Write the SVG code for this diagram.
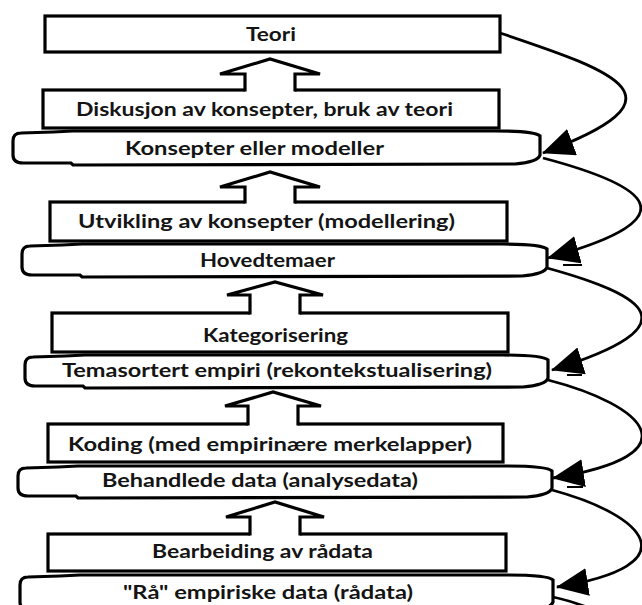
<svg xmlns="http://www.w3.org/2000/svg" width="642" height="605" viewBox="0 0 642 605">
<style>
.box{fill:#fff;stroke:#000;stroke-width:3.2}
.lbl{font-family:Lato,"Liberation Sans",sans-serif;font-weight:bold;font-size:19px;fill:#141414;text-anchor:middle}
.up-fill{fill:#fff;stroke:none}
.up-line{fill:none;stroke:#000;stroke-width:3.2;stroke-linejoin:miter}
.curve{fill:none;stroke:#000;stroke-width:2.8}
.tick{stroke:#000;stroke-width:2}
</style>
<defs>
<marker id="head" markerUnits="userSpaceOnUse" markerWidth="32" markerHeight="28" viewBox="0 0 32 28" refX="31" refY="14" orient="auto">
<path d="M0,0 L32,14 L0,28 Z" fill="#000"/>
</marker>
</defs>
<rect width="642" height="605" fill="#fff"/>
<g id="nodes">
<g id="teori"><rect class="box" x="45" y="16" width="455" height="36"/><text class="lbl" x="271" y="41" textLength="50" lengthAdjust="spacingAndGlyphs">Teori</text></g>
<g id="diskusjon"><rect class="box" x="43" y="90" width="456" height="38"/><text class="lbl" x="264.5" y="116" textLength="377" lengthAdjust="spacingAndGlyphs">Diskusjon av konsepter, bruk av teori</text></g>
<g id="konsepter"><path class="box" d="M21,133 L53,132 L73,131 L495,131 Q535,131 540,136 L540,155 Q538,162 515,164 L73,165 L71,163 L23,163 Q13,163 13,155 L13,141 Q13,133 21,133 Z"/><text class="lbl" x="254.5" y="155" textLength="259" lengthAdjust="spacingAndGlyphs">Konsepter eller modeller</text></g>
<g id="utvikling"><rect class="box" x="50" y="202" width="457" height="39"/><text class="lbl" x="266.5" y="228" textLength="377" lengthAdjust="spacingAndGlyphs">Utvikling av konsepter (modellering)</text></g>
<g id="hovedtemaer"><path class="box" d="M30,246 L62,245 L82,244 L502,244 Q542,244 547,249 L547,267 Q545,274 522,276 L82,277 L80,275 L32,275 Q22,275 22,267 L22,254 Q22,246 30,246 Z"/><text class="lbl" x="267.5" y="267" textLength="135" lengthAdjust="spacingAndGlyphs">Hovedtemaer</text></g>
<g id="kategorisering"><rect class="box" x="52" y="313" width="456" height="39"/><text class="lbl" x="275.5" y="342" textLength="145" lengthAdjust="spacingAndGlyphs">Kategorisering</text></g>
<g id="temasortert"><path class="box" d="M33,357 L65,356 L85,355 L503,355 Q543,355 548,360 L548,378 Q546,385 523,387 L85,388 L83,386 L35,386 Q25,386 25,378 L25,365 Q25,357 33,357 Z"/><text class="lbl" x="277" y="377" textLength="430" lengthAdjust="spacingAndGlyphs">Temasortert empiri (rekontekstualisering)</text></g>
<g id="koding"><rect class="box" x="48" y="424" width="455" height="38"/><text class="lbl" x="270" y="451" textLength="404" lengthAdjust="spacingAndGlyphs">Koding (med empirinære merkelapper)</text></g>
<g id="behandlede"><path class="box" d="M26,468 L58,467 L78,466 L507,466 Q547,466 552,471 L552,488 Q550,495 527,497 L78,498 L76,496 L28,496 Q18,496 18,488 L18,476 Q18,468 26,468 Z"/><text class="lbl" x="260" y="487" textLength="316" lengthAdjust="spacingAndGlyphs">Behandlede data (analysedata)</text></g>
<g id="bearbeiding"><rect class="box" x="48" y="534" width="458" height="37"/><text class="lbl" x="262.5" y="558" textLength="221" lengthAdjust="spacingAndGlyphs">Bearbeiding av rådata</text></g>
<g id="raadata"><path class="box" d="M28,577 L60,576 L80,575 L508,575 Q548,575 553,580 L553,602 Q551,609 528,611 L80,612 L78,610 L30,610 Q20,610 20,602 L20,585 Q20,577 28,577 Z"/><text class="lbl" x="268" y="599" textLength="290" lengthAdjust="spacingAndGlyphs">"Rå" empiriske data (rådata)</text></g>
</g>
<g id="connectors">
<g id="up1"><polygon class="up-fill" points="220,74 270,59 320,74 295,74 295,92 245,92 245,74"/><path class="up-line" d="M245,91.5 L245,74 L220,74 L270,59 L320,74 L295,74 L295,91.5"/></g>
<g id="up2"><polygon class="up-fill" points="220,187 270,172 320,187 295,187 295,204 245,204 245,187"/><path class="up-line" d="M245,203.5 L245,187 L220,187 L270,172 L320,187 L295,187 L295,203.5"/></g>
<g id="up3"><polygon class="up-fill" points="227,295 275,282 323,295 300,295 300,315 250,315 250,295"/><path class="up-line" d="M250,314.5 L250,295 L227,295 L275,282 L323,295 L300,295 L300,314.5"/></g>
<g id="up4"><polygon class="up-fill" points="225,406 273,392 321,406 298,406 298,426 248,426 248,406"/><path class="up-line" d="M248,425.5 L248,406 L225,406 L273,392 L321,406 L298,406 L298,425.5"/></g>
<g id="up5"><polygon class="up-fill" points="226,517 275,502 324,517 300,517 300,536 250,536 250,517"/><path class="up-line" d="M250,535.5 L250,517 L226,517 L275,502 L324,517 L300,517 L300,535.5"/></g>
<path class="curve" d="M500,33 C620,73 690,98 543,153" marker-end="url(#head)"/>
<path class="curve" d="M543,158 C645,185 697,217 548,258" marker-end="url(#head)"/>
<path class="curve" d="M547,268 C645,295 697,325 552,370" marker-end="url(#head)"/>
<path class="curve" d="M548,380 C645,405 697,455 553,478" marker-end="url(#head)"/>
<path class="curve" d="M552,490 C645,515 693,565 557,587" marker-end="url(#head)"/>
<path class="curve" d="M553,597 Q572,601 600,612"/>
<line class="tick" x1="563" y1="265" x2="582" y2="265"/>
<line class="tick" x1="567" y1="375" x2="582" y2="375"/>
<line class="tick" x1="567" y1="487" x2="583" y2="487"/>
</g>
</svg>
